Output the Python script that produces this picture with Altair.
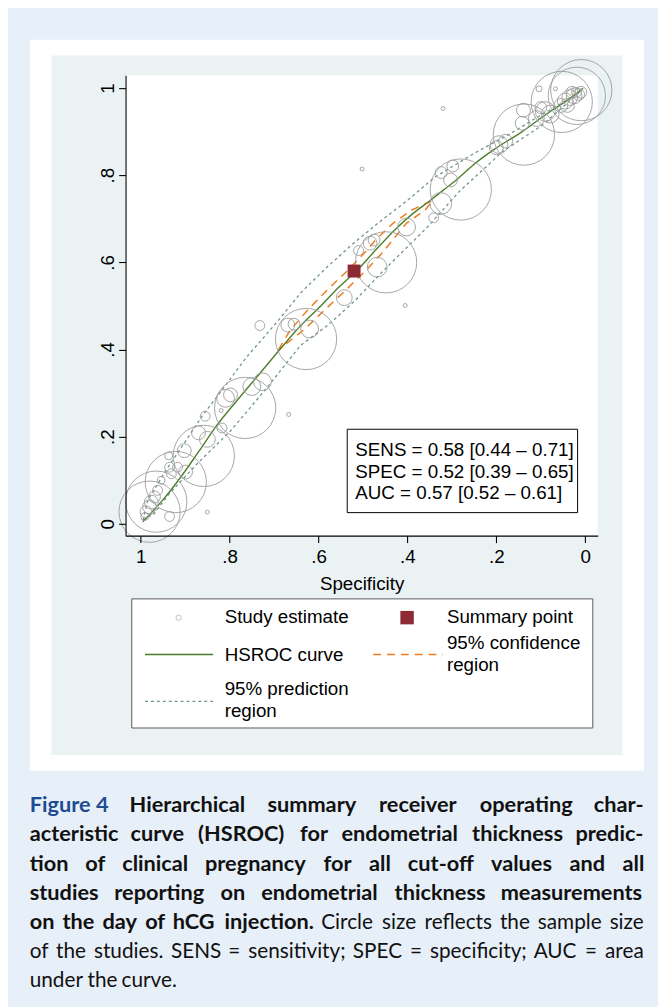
import altair as alt
import pandas as pd

# ---------------- values ----------------
study_spec = [0.009, 0.019, 0.053, 0.138, 0.104, 0.067, 0.320, 0.502, 0.405,
              0.045, 0.035, 0.025, 0.015, 0.040, 0.055, 0.020, 0.010, 0.030,
              0.090, 0.079, 0.110, 0.100, 0.139, 0.142,
              0.194, 0.179, 0.200,
              0.280, 0.324, 0.303, 0.298, 0.325, 0.341, 0.402,
              0.448, 0.468, 0.484, 0.475, 0.510, 0.542,
              0.628, 0.669, 0.620, 0.732, 0.655,
              0.765, 0.750, 0.726, 0.809, 0.798, 0.819, 0.667, 0.855, 0.817,
              0.858, 0.870, 0.850, 0.902, 0.937,
              0.921, 0.965, 0.980, 0.935, 0.899, 0.850,
              0.935, 0.931, 0.954, 0.962, 0.969, 0.976, 0.980, 0.988, 0.991, 0.917]
study_sens = [0.995, 0.982, 0.968, 0.893, 0.998, 0.998, 0.953, 0.814, 0.501,
              0.970, 0.978, 0.982, 0.985, 0.960, 0.960, 0.990, 0.990, 0.990,
              0.946, 0.940, 0.930, 0.955, 0.949, 0.919,
              0.870, 0.878, 0.863,
              0.767, 0.806, 0.789, 0.821, 0.735, 0.702, 0.681,
              0.600, 0.589, 0.644, 0.651, 0.627, 0.519,
              0.424, 0.456, 0.447, 0.455, 0.458,
              0.266, 0.315, 0.326, 0.288, 0.296, 0.260, 0.251, 0.247, 0.220,
              0.156, 0.209, 0.194, 0.168, 0.156,
              0.096, 0.051, 0.028, 0.017, 0.119, 0.027,
              0.130, 0.115, 0.100, 0.077, 0.062, 0.050, 0.039, 0.028, 0.017, 0.130]
# relative circle radius (sample size)
study_size = [31, 29, 31, 31, 3, 2, 2, 2, 2,
              8, 8, 8, 6, 7, 7, 5, 6, 6,
              10, 9, 8, 6, 7, 7,
              9, 7, 7,
              31, 6, 7, 6, 11, 5, 9,
              31, 10, 7, 6, 5, 8,
              31, 7, 9, 5, 6,
              31, 9, 9, 9, 7, 2, 2, 5, 5,
              31, 7, 8, 7, 4,
              31, 31, 31, 5, 7, 2,
              5, 5, 4, 5, 6, 7, 7, 6, 4, 5]

summary_spec = [0.52]
summary_sens = [0.58]

hsroc_spec = [0.995, 0.95, 0.91, 0.87, 0.828, 0.78, 0.732, 0.687, 0.64, 0.595, 0.555, 0.514,
              0.47, 0.428, 0.39, 0.354, 0.32, 0.29, 0.25, 0.205, 0.146, 0.079, 0.04, 0.005]
hsroc_sens = [0.005, 0.055, 0.107, 0.165, 0.227, 0.287, 0.345, 0.400, 0.455, 0.5, 0.542, 0.581,
              0.63, 0.675, 0.71, 0.738, 0.765, 0.789, 0.825, 0.859, 0.897, 0.946, 0.972, 0.999]

ci_spec = [0.69, 0.663, 0.625, 0.582, 0.538, 0.5, 0.468, 0.432, 0.39, 0.343,
           0.36, 0.402, 0.43, 0.46, 0.497, 0.54, 0.587, 0.633, 0.69]
ci_sens = [0.40, 0.445, 0.49, 0.535, 0.578, 0.618, 0.655, 0.69, 0.72, 0.742,
           0.72, 0.69, 0.655, 0.618, 0.578, 0.535, 0.49, 0.445, 0.40]

pred_spec = [0.995, 0.984, 0.945, 0.899, 0.86, 0.817, 0.76, 0.70, 0.64, 0.58, 0.52, 0.46, 0.40,
             0.339, 0.25, 0.169, 0.096, 0.045, 0.01,
             0.03, 0.096, 0.185, 0.282, 0.355, 0.452, 0.52, 0.58, 0.64, 0.717, 0.798, 0.873,
             0.935, 0.969, 0.995]
pred_sens = [0.008, 0.054, 0.12, 0.19, 0.25, 0.307, 0.385, 0.455, 0.53, 0.59, 0.645, 0.695, 0.742,
             0.795, 0.85, 0.895, 0.94, 0.97, 0.993,
             0.975, 0.915, 0.855, 0.764, 0.681, 0.583, 0.51, 0.455, 0.41, 0.311, 0.213, 0.138,
             0.07, 0.024, 0.008]

axis_ticks = [0, 0.2, 0.4, 0.6, 0.8, 1]

stats_lines = ["SENS = 0.58 [0.44 \u2013 0.71]",
               "SPEC = 0.52 [0.39 \u2013 0.65]",
               "AUC = 0.57 [0.52 \u2013 0.61]"]

legend_texts = ["Study estimate", "Summary point", "HSROC curve", "95% confidence",
                "region", "95% prediction", "region"]

# caption: one list per printed line; style "blue" = bold blue, "b" = bold, "r" = regular
caption_lines = [
    [("Figure 4", "blue"), ("Hierarchical", "b"), ("summary", "b"),
     ("receiver", "b"), ("operating", "b"), ("char-", "b")],
    [("acteristic", "b"), ("curve", "b"), ("(HSROC)", "b"), ("for", "b"),
     ("endometrial", "b"), ("thickness", "b"), ("predic-", "b")],
    [("tion", "b"), ("of", "b"), ("clinical", "b"), ("pregnancy", "b"), ("for", "b"),
     ("all", "b"), ("cut-off", "b"), ("values", "b"), ("and", "b"), ("all", "b")],
    [("studies", "b"), ("reporting", "b"), ("on", "b"), ("endometrial", "b"),
     ("thickness", "b"), ("measurements", "b")],
    [("on", "b"), ("the", "b"), ("day", "b"), ("of", "b"), ("hCG", "b"), ("injection.", "b"),
     ("Circle", "r"), ("size", "r"), ("reflects", "r"), ("the", "r"), ("sample", "r"), ("size", "r")],
    [("of", "r"), ("the", "r"), ("studies.", "r"), ("SENS", "r"), ("=", "r"), ("sensitivity;", "r"),
     ("SPEC", "r"), ("=", "r"), ("specificity;", "r"), ("AUC", "r"), ("=", "r"), ("area", "r")],
    [("under", "r"), ("the", "r"), ("curve.", "r")],
]

# ---------------- layout ----------------
W, H = 478, 466          # plot area
X0, Y0 = 127, 70         # page position of the plot area
FONT = "Liberation Sans"
CAP_FONT = "Lato"
FS = 19

one = pd.DataFrame({"k": [0]})

xs = alt.Scale(domain=[-0.028, 1.034], reverse=True, nice=False, zero=False)
ys = alt.Scale(domain=[-0.027, 1.029], nice=False, zero=False)
lab = "datum.value == 0 ? '0' : datum.value == 1 ? '1' : '.' + format(datum.value * 10, '.0f')"

x_axis = alt.Axis(values=axis_ticks, labelExpr=lab, title="Specificity", grid=False,
                  domainColor="black", tickColor="black", domainWidth=1.1, tickWidth=1.1,
                  tickSize=7, labelFont=FONT, labelFontSize=FS, labelColor="black",
                  labelPadding=5, titleFont=FONT, titleFontSize=FS, titleFontWeight="normal",
                  titleColor="black", titlePadding=9, zindex=1, labelFlush=False)
y_axis = alt.Axis(values=axis_ticks, labelExpr=lab, title="", grid=False,
                  domainColor="black", tickColor="black", domainWidth=1.1, tickWidth=1.1,
                  tickSize=7, labelFont=FONT, labelFontSize=FS, labelColor="black",
                  labelAngle=270, labelAlign="center", labelBaseline="alphabetic",
                  labelPadding=5, zindex=1, labelFlush=False)


def X():
    return alt.X("spec:Q", scale=xs, axis=x_axis)


def Y():
    return alt.Y("sens:Q", scale=ys, axis=y_axis)


def rect(x1, x2, y1, y2, **kw):
    return alt.Chart(one).mark_rect(**kw).encode(
        x=alt.value(x1 - X0), x2=alt.value(x2 - X0),
        y=alt.value(y1 - Y0), y2=alt.value(y2 - Y0))


def hrule(x1, x2, y, **kw):
    return alt.Chart(one).mark_rule(**kw).encode(
        x=alt.value(x1 - X0), x2=alt.value(x2 - X0), y=alt.value(y - Y0))


def texts(rows, **kw):
    df = pd.DataFrame(rows, columns=["t", "px", "py", "c"])
    df["px"] = df["px"] - X0
    df["py"] = df["py"] - Y0
    return alt.Chart(df).mark_text(**kw).encode(
        x=alt.X("px:Q", scale=None), y=alt.Y("py:Q", scale=None),
        text="t:N", color=alt.Color("c:N", scale=None))


# approximate Lato advance widths (em) for justified caption layout
CW = {" ": 0.193, "a": 0.489, "b": 0.562, "c": 0.466, "d": 0.562, "e": 0.528, "f": 0.327,
      "g": 0.509, "h": 0.562, "i": 0.243, "j": 0.243, "k": 0.503, "l": 0.243, "m": 0.846,
      "n": 0.562, "o": 0.562, "p": 0.552, "q": 0.562, "r": 0.382, "s": 0.424, "t": 0.356,
      "u": 0.562, "v": 0.518, "w": 0.776, "x": 0.5, "y": 0.518, "z": 0.47,
      "A": 0.68, "C": 0.69, "E": 0.56, "F": 0.54, "G": 0.73, "H": 0.76, "N": 0.76,
      "O": 0.8, "P": 0.6, "R": 0.63, "S": 0.53, "U": 0.73,
      "4": 0.58, ".": 0.24, ";": 0.25, "=": 0.58, "(": 0.3, ")": 0.3, "-": 0.37}
CAP_BOLD, CAP_REG = 22, 21
CAP_L, CAP_R = 30, 652
baselines = [816 + 29.5 * k for k in range(7)]


def wwidth(word, style):
    fs = CAP_REG if style == "r" else CAP_BOLD
    f = 1.0 if style == "r" else 1.02
    return sum(CW.get(ch, 0.5) for ch in word) * fs * f


bold_rows, reg_rows = [], []
for ln, words in enumerate(caption_lines):
    widths = [wwidth(w, s) for w, s in words]
    last = ln == len(caption_lines) - 1
    if last or len(words) == 1:
        gap = CW[" "] * CAP_REG
    else:
        gap = (CAP_R - CAP_L - sum(widths)) / (len(words) - 1)
    x = CAP_L
    for (w, s), wd in zip(words, widths):
        row = (w, x, baselines[ln], "#1f4b91" if s == "blue" else "#111111")
        (reg_rows if s == "r" else bold_rows).append(row)
        x += wd + gap

# backgrounds
panel = rect(30, 652, 34, 774, color="white")
graph_region = rect(52, 630, 50, 758, color="#eaf2f3")
plot_bg = rect(127, 605, 70, 536, color="white")

# data layers
pred_df = pd.DataFrame({"spec": pred_spec, "sens": pred_sens, "i": range(len(pred_spec))})
ci_df = pd.DataFrame({"spec": ci_spec, "sens": ci_sens, "i": range(len(ci_spec))})
curve_df = pd.DataFrame({"spec": hsroc_spec, "sens": hsroc_sens, "i": range(len(hsroc_spec))})
study_df = pd.DataFrame({"spec": study_spec, "sens": study_sens, "r": study_size})
sum_df = pd.DataFrame({"spec": summary_spec, "sens": summary_sens})

pred = alt.Chart(pred_df).mark_line(color="#6e978b", strokeWidth=1.3, strokeDash=[3, 3]).encode(
    x=X(), y=Y(), order="i:Q")
ci = alt.Chart(ci_df).mark_line(color="#ee7d1f", strokeWidth=1.5, strokeDash=[8, 6]).encode(
    x=X(), y=Y(), order="i:Q")
curve = alt.Chart(curve_df).mark_line(color="#4d7d2a", strokeWidth=1.4,
                                      interpolate="monotone").encode(
    x=X(), y=Y(), order="i:Q")
studies = alt.Chart(study_df).mark_point(shape="circle", filled=False, color="#9c9c9c",
                                         strokeWidth=0.9, opacity=1).encode(
    x=X(), y=Y(),
    size=alt.Size("r:Q", scale=alt.Scale(type="pow", exponent=2, domain=[0, 31], range=[0, 3844]),
                  legend=None))
summary = alt.Chart(sum_df).mark_square(size=172, color="#8c2b36", opacity=1).encode(x=X(), y=Y())

# stats box
stats_box = rect(351.4, 584.6, 428.3, 512.7, fill="white", stroke="black", strokeWidth=1)
stats_txt = texts([(stats_lines[0], 359.6, 455.0, "black"),
                   (stats_lines[1], 359.6, 477.4, "black"),
                   (stats_lines[2], 359.6, 499.0, "black")],
                  align="left", baseline="alphabetic", font=FONT, fontSize=FS)

# legend
leg_box = rect(133.3, 600, 600, 730.7, fill="white", stroke="#595959", strokeWidth=1)
leg_circle = alt.Chart(one).mark_point(shape="circle", filled=False, color="#9c9c9c", size=28,
                                       strokeWidth=0.9).encode(
    x=alt.value(180.7 - X0), y=alt.value(619 - Y0))
leg_square = alt.Chart(one).mark_square(size=185, color="#8c2b36", opacity=1).encode(
    x=alt.value(412 - X0), y=alt.value(619 - Y0))
leg_curve = hrule(146.7, 215.7, 656.3, color="#4d7d2a", strokeWidth=1.4)
leg_ci = hrule(377.7, 448.3, 656.3, color="#ee7d1f", strokeWidth=1.5, strokeDash=[8, 6])
leg_pred = hrule(146.7, 215.7, 703.7, color="#6e978b", strokeWidth=1.3, strokeDash=[3, 3])
leg_txt = texts([(legend_texts[0], 227.3, 624.3, "black"),
                 (legend_texts[1], 452.3, 624.3, "black"),
                 (legend_texts[2], 227.3, 662.8, "black"),
                 (legend_texts[3], 452.3, 650.8, "black"),
                 (legend_texts[4], 452.3, 672.8, "black"),
                 (legend_texts[5], 227.3, 697.5, "black"),
                 (legend_texts[6], 227.3, 719.5, "black")],
                align="left", baseline="alphabetic", font=FONT, fontSize=FS)

cap_bold = texts(bold_rows, align="left", baseline="alphabetic", font=CAP_FONT,
                 fontSize=CAP_BOLD, fontWeight="bold")
cap_reg = texts(reg_rows, align="left", baseline="alphabetic", font=CAP_FONT, fontSize=CAP_REG)

chart = alt.layer(
    panel, graph_region, plot_bg,
    pred, ci, curve, studies, summary,
    stats_box, stats_txt,
    leg_box, leg_circle, leg_square, leg_curve, leg_ci, leg_pred, leg_txt,
    cap_bold, cap_reg,
).properties(
    width=W, height=H,
    autosize=alt.AutoSizeParams(type="none"),
    padding={"left": X0 - 8, "top": Y0 - 8, "right": 658 - (X0 - 8) - W, "bottom": 999 - (Y0 - 8) - H},
    background="#e7eff8",
).configure_view(strokeWidth=0)

chart.save("out.html", embed_options={"renderer": "svg", "actions": False})
